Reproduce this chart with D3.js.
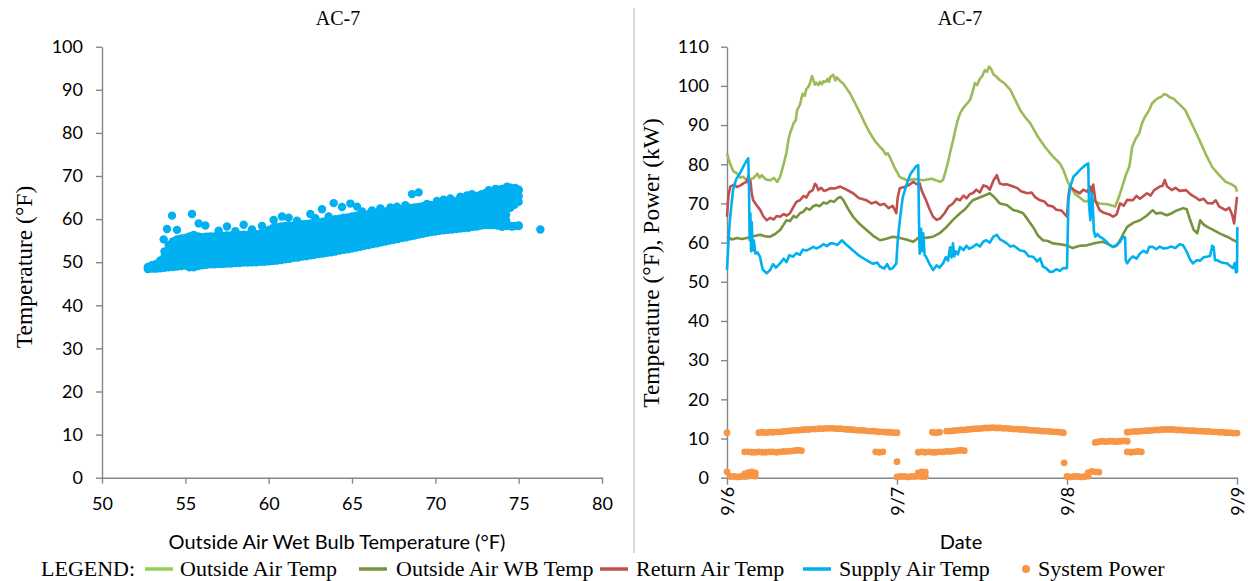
<!DOCTYPE html>
<html>
<head>
<meta charset="utf-8">
<script src="https://cdn.jsdelivr.net/npm/d3@7"></script>
<style>
  body { margin: 0; background: #fff; }
  svg text { fill: #000; }
</style>
</head>
<body>
<div id="chart"></div>
<script>

// ---- data ----

// left: outside air WB (°F) bins, with the supply air temps read in each bin
const wbBins = [52.75, 53, 53.25, 53.5, 53.75, 54, 54.25, 54.5, 54.75, 55, 55.25, 55.5, 55.75,
  56, 56.25, 56.5, 56.75, 57, 57.25, 57.5, 57.75, 58, 58.25, 58.5, 58.75, 59, 59.25, 59.5, 59.75,
  60, 60.25, 60.5, 60.75, 61, 61.25, 61.5, 61.75, 62, 62.25, 62.5, 62.75, 63, 63.25, 63.5, 63.75,
  64, 64.25, 64.5, 64.75, 65, 65.25, 65.5, 65.75, 66, 66.25, 66.5, 66.75, 67, 67.25, 67.5, 67.75,
  68, 68.25, 68.5, 68.75, 69, 69.25, 69.5, 69.75, 70, 70.25, 70.5, 70.75, 71, 71.25, 71.5, 71.75,
  72, 72.25, 72.5, 72.75, 73, 73.25, 73.5, 73.75, 74, 74.25, 74.5, 74.75, 75];
const satByBin = [
  [48.4, 48.9],
  [48.5, 49.3],
  [48.5, 49.6],
  [48.6, 49.9, 50.4],
  [48.7, 50.0, 51.3, 52.5],
  [48.8, 50.1, 51.4, 52.7, 54.0],
  [48.9, 50.2, 51.5, 52.8, 54.1, 54.8],
  [49.0, 50.3, 51.6, 52.9, 54.2, 55.3],
  [49.1, 50.4, 51.7, 53.0, 54.3, 55.5],
  [49.2, 50.5, 51.8, 53.1, 54.4, 55.6],
  [48.8, 50.1, 51.4, 52.7, 54.0, 55.3, 56.0],
  [48.8, 50.1, 51.4, 52.7, 54.0, 55.3, 56.3],
  [49.1, 50.4, 51.7, 53.0, 54.3, 55.6, 56.0],
  [49.3, 50.6, 51.9, 53.2, 54.5, 55.8],
  [49.4, 50.7, 52.0, 53.3, 54.6, 55.9],
  [49.5, 50.8, 52.1, 53.4, 54.7, 56.0],
  [49.5, 50.8, 52.1, 53.4, 54.7, 56.0],
  [49.6, 50.9, 52.2, 53.5, 54.8, 56.1],
  [49.6, 50.9, 52.2, 53.5, 54.8, 56.1],
  [49.7, 51.0, 52.3, 53.6, 54.9, 56.2],
  [49.7, 51.0, 52.3, 53.6, 54.9, 56.2],
  [49.8, 51.1, 52.4, 53.7, 55.0, 56.3],
  [49.8, 51.1, 52.4, 53.7, 55.0, 56.3],
  [49.9, 51.2, 52.5, 53.8, 55.1, 56.4],
  [49.9, 51.2, 52.5, 53.8, 55.1, 56.4],
  [50.0, 51.3, 52.6, 53.9, 55.2, 56.5],
  [50.0, 51.3, 52.6, 53.9, 55.2, 56.5],
  [50.1, 51.4, 52.7, 54.0, 55.3, 56.6],
  [50.1, 51.4, 52.7, 54.0, 55.3, 56.6],
  [50.2, 51.5, 52.8, 54.1, 55.4, 56.7, 57.5],
  [50.3, 51.6, 52.9, 54.2, 55.5, 56.8, 57.9],
  [50.4, 51.7, 53.0, 54.3, 55.6, 56.9, 58.2],
  [50.5, 51.8, 53.1, 54.4, 55.7, 57.0, 58.3],
  [50.7, 52.0, 53.3, 54.6, 55.9, 57.2, 58.4],
  [50.8, 52.1, 53.4, 54.7, 56.0, 57.3, 58.4],
  [51.0, 52.3, 53.6, 54.9, 56.2, 57.5, 58.5],
  [51.1, 52.4, 53.7, 55.0, 56.3, 57.6, 58.6],
  [51.3, 52.6, 53.9, 55.2, 56.5, 57.8, 58.8],
  [51.4, 52.7, 54.0, 55.3, 56.6, 57.9, 58.9],
  [51.6, 52.9, 54.2, 55.5, 56.8, 58.1, 59.0],
  [51.7, 53.0, 54.3, 55.6, 56.9, 58.2, 59.1],
  [51.9, 53.2, 54.5, 55.8, 57.1, 58.4, 59.3],
  [52.0, 53.3, 54.6, 55.9, 57.2, 58.5, 59.4],
  [52.2, 53.5, 54.8, 56.1, 57.4, 58.7, 59.6],
  [52.3, 53.6, 54.9, 56.2, 57.5, 58.8, 59.8],
  [52.5, 53.8, 55.1, 56.4, 57.7, 59.0, 60.0],
  [52.7, 54.0, 55.3, 56.6, 57.9, 59.2, 60.1],
  [52.9, 54.2, 55.5, 56.8, 58.1, 59.4, 60.3],
  [53.0, 54.3, 55.6, 56.9, 58.2, 59.5, 60.4],
  [53.2, 54.5, 55.8, 57.1, 58.4, 59.7, 60.6],
  [53.4, 54.7, 56.0, 57.3, 58.6, 59.9, 60.8],
  [53.6, 54.9, 56.2, 57.5, 58.8, 60.1, 61.0],
  [53.8, 55.1, 56.4, 57.7, 59.0, 60.3, 61.1],
  [54.0, 55.3, 56.6, 57.9, 59.2, 60.5, 61.2],
  [54.2, 55.5, 56.8, 58.1, 59.4, 60.7, 61.4],
  [54.4, 55.7, 57.0, 58.3, 59.6, 60.9, 61.5],
  [54.6, 55.9, 57.2, 58.5, 59.8, 61.1, 61.7],
  [54.8, 56.1, 57.4, 58.7, 60.0, 61.2, 61.8],
  [55.0, 56.3, 57.6, 58.9, 60.2, 61.4, 61.9],
  [55.2, 56.5, 57.8, 59.1, 60.4, 61.6, 62.0],
  [55.4, 56.7, 58.0, 59.3, 60.6, 61.8, 62.2],
  [55.6, 56.9, 58.2, 59.5, 60.8, 61.9, 62.3],
  [55.8, 57.1, 58.4, 59.7, 61.0, 62.1, 62.5],
  [56.0, 57.3, 58.6, 59.9, 61.2, 62.3, 62.6],
  [56.2, 57.5, 58.8, 60.1, 61.4, 62.7],
  [56.4, 57.7, 59.0, 60.3, 61.6, 62.8],
  [56.6, 57.9, 59.2, 60.5, 61.8, 63.0],
  [56.8, 58.1, 59.4, 60.7, 62.0, 63.1],
  [57.0, 58.3, 59.6, 60.9, 62.2, 63.3],
  [57.1, 58.4, 59.7, 61.0, 62.3, 63.4],
  [57.3, 58.6, 59.9, 61.2, 62.5, 63.6],
  [57.4, 58.7, 60.0, 61.3, 62.6, 63.7],
  [57.5, 58.8, 60.1, 61.4, 62.7, 63.9],
  [57.6, 58.9, 60.2, 61.5, 62.8, 64.0],
  [57.7, 59.0, 60.3, 61.6, 62.9, 64.2],
  [57.8, 59.1, 60.4, 61.7, 63.0, 64.3],
  [57.9, 59.2, 60.5, 61.8, 63.1, 64.4],
  [58.0, 59.3, 60.6, 61.9, 63.2, 64.5, 65.0],
  [58.2, 59.5, 60.8, 62.1, 63.4, 64.7, 65.2],
  [58.3, 59.6, 60.9, 62.2, 63.5, 64.8, 65.4],
  [58.5, 59.8, 61.1, 62.4, 63.7, 65.0, 65.7],
  [58.6, 59.9, 61.2, 62.5, 63.8, 65.1, 66.0],
  [58.6, 59.9, 61.2, 62.5, 63.8, 65.1, 66.2],
  [58.6, 59.9, 61.2, 62.5, 63.8, 65.1, 66.3],
  [58.5, 59.8, 61.1, 62.4, 63.7, 65.0, 66.3, 66.8],
  [58.5, 59.8, 61.1, 62.4, 63.7, 65.0, 66.3, 67.0],
  [58.4, 59.7, 61.0, 62.3, 63.6, 64.9, 66.2, 67.2],
  [58.4, 62.6, 63.9, 65.2, 66.5, 67.3],
  [58.4, 63.3, 64.6, 65.9, 67.1],
  [58.5, 64.0, 65.3, 66.6]
];
// stray points above the band
const scatterOutliers = [[53.7, 55.3], [53.9, 57.7], [54.2, 60.8], [54.5, 57.5], [55.4, 61.2],
  [55.8, 59], [56.2, 58.5], [57.0, 57.3], [57.5, 58.3], [58.0, 57.2], [58.5, 58.7], [59.0, 57.6],
  [59.6, 58.4], [60.3, 59.8], [60.8, 60.6], [61.2, 60.3], [61.7, 59.6], [62.5, 61.2], [62.8, 60.2],
  [63.2, 62.3], [63.6, 60.6], [63.9, 63.7], [64.4, 62.8], [64.9, 63.6], [65.3, 62.9], [65.6, 61.8],
  [66.2, 62.0], [66.7, 62.5], [67.3, 62.7], [67.7, 62.9], [68.2, 63.2], [68.6, 65.8], [69.0, 66.2],
  [69.5, 63.5], [70.1, 64.2], [70.5, 64.5], [70.9, 64.8], [71.5, 65.2], [71.9, 65.5], [72.2, 65.8],
  [72.8, 65.7], [73.2, 66.7], [73.6, 67.0], [74.3, 67.5], [74.8, 67.2], [75.0, 66.8],
  [74.0, 58.2], [74.6, 58.3], [75.0, 58.4], [76.3, 57.6]];

// right: hours after 9/6 00:00, value
const dateLabels = ["9/6", "9/7", "9/8", "9/9"];
const dateHours = [0, 24, 48, 72];

const outsideAirTemp = [[0, 82.8], [0.2, 81.5], [0.4, 80.3], [0.9, 78.2], [1.4, 77.7], [1.8, 76.6],
  [2.3, 76.8], [2.8, 75.8], [3.2, 76.2], [3.7, 76.4], [4.3, 77.6], [4.6, 76.5], [4.9, 77.2], [5.5, 76.1],
  [6.1, 75.9], [6.6, 76.5], [7.1, 75.5], [7.5, 76.8], [7.9, 79.4], [8.2, 81.5], [8.4, 83], [8.7, 86.5],
  [8.9, 87.9], [9.2, 89.4], [9.4, 90.5], [9.7, 91.2], [9.9, 93.8], [10.1, 94.5], [10.3, 95.2],
  [10.5, 96.8], [10.7, 98], [11.0, 97.5], [11.2, 99.2], [11.5, 99.8], [11.7, 100.6], [12.0, 102.5],
  [12.2, 101.5], [12.4, 100.3], [12.6, 100.8], [12.9, 100.2], [13.1, 101], [13.4, 100.4], [13.6, 101.2],
  [13.9, 101.0], [14.2, 101.8], [14.4, 101.0], [14.6, 102.3], [15, 102.8], [15.3, 101.4], [15.5, 102.2],
  [16, 101.2], [16.4, 100.6], [16.9, 99.3], [17.4, 98], [18.1, 95.5], [18.8, 93], [19.5, 90.3],
  [20.2, 87.9], [20.9, 85.9], [21.6, 84.4], [22.0, 83.7], [22.4, 82.5], [22.7, 82.8], [23, 81.8],
  [23.7, 79.0], [24.4, 76.7], [25.4, 75.9], [26.5, 76.2], [27.7, 75.9], [28.9, 76.3], [30.1, 75.5],
  [30.5, 76], [30.8, 77.8], [31.2, 80.5], [31.5, 83.0], [31.9, 86], [32.2, 88.5], [32.5, 90.8],
  [32.9, 93], [33.3, 94.2], [33.8, 95.3], [34.3, 96.4], [34.6, 98.0], [35, 100.7], [35.3, 100.2],
  [35.7, 101.8], [36.0, 102.4], [36.4, 104], [36.7, 103.6], [37, 104.9], [37.3, 104.3], [37.6, 103],
  [38.0, 102.4], [38.5, 101.5], [39.2, 100.6], [40, 99], [40.7, 96.4], [41.4, 93.8], [42.1, 92.0],
  [42.8, 90.5], [43.8, 87.3], [44.9, 84.4], [45.9, 82.2], [47, 80.2], [47.5, 78.5], [48.1, 75.5],
  [49.1, 72.5], [50.5, 70.5], [51.5, 70.8], [52.6, 70], [53.7, 69.8], [54.8, 69.2], [55.3, 71.5],
  [55.8, 74.3], [56.3, 77.2], [56.8, 79.4], [57.2, 84.4], [57.7, 86.5], [58.2, 87.9], [58.6, 90.5],
  [59, 92.1], [59.6, 93.8], [60.0, 95.5], [60.5, 96.4], [60.9, 96.9], [61.3, 97.2], [61.7, 97.9],
  [62.1, 97.7], [62.5, 97.1], [63, 96.8], [63.8, 95.4], [64.7, 93.8], [65.7, 90.0], [66.7, 86.2],
  [67.6, 82.5], [68.5, 79.3], [69.4, 77.4], [70.4, 75.5], [71.1, 75.0], [71.8, 74.2], [72, 73]];

const outsideAirWB = [[0, 61.5], [0.7, 60.8], [1.4, 61.2], [2.1, 60.9], [2.8, 61.2], [3.7, 61.6],
  [4.7, 62], [5.4, 61.6], [6.1, 61.5], [6.8, 62.2], [7.5, 63.2], [8.0, 64.6], [8.4, 65.7], [8.9, 65.5],
  [9.4, 66.8], [9.8, 66.4], [10.3, 67.5], [10.8, 67.9], [11.2, 68.8], [11.7, 68.4], [12.1, 69.2],
  [12.6, 69.6], [13.1, 69.3], [13.6, 70.2], [14.1, 70], [14.6, 70.7], [15.1, 70.4], [15.6, 71.3],
  [16, 71.7], [16.4, 70.9], [17.1, 68.6], [17.8, 66.6], [18.7, 64.8], [19.7, 63.2], [20.6, 61.8],
  [21.6, 60.6], [22.5, 61.0], [23.4, 61.5], [24.4, 61.2], [25.3, 60.8], [26.3, 60.2], [26.8, 60.9],
  [27.2, 61.5], [28.1, 61.2], [29.1, 61.5], [30.1, 62.5], [31, 64], [31.9, 65.8], [32.9, 67.5],
  [33.6, 68.5], [34.2, 69.8], [34.7, 70.8], [35.4, 71.3], [36.2, 71.9], [37.1, 72.6], [37.8, 71.5],
  [38.5, 70], [39.5, 69.6], [40.4, 68.3], [41.1, 68.0], [41.8, 67.5], [42.5, 65.8], [43.2, 64],
  [43.9, 61.8], [44.6, 60.6], [45.3, 60.4], [46, 59.8], [47, 59.6], [48, 59.3], [48.8, 58.6],
  [49.8, 59.2], [50.8, 59.3], [52.0, 59.9], [53.1, 60.2], [53.8, 59.6], [54.5, 58.9], [55.0, 59.2],
  [55.5, 60.6], [56.0, 62.4], [56.5, 64], [57.4, 65.1], [58.3, 65.7], [59.2, 66.8], [60.1, 68.3],
  [60.6, 67.4], [61.2, 67.6], [62.1, 67], [62.8, 67.5], [63.5, 68.2], [64.4, 68.8], [64.9, 68.5],
  [65.4, 65.7], [65.9, 63.2], [66.4, 62.4], [66.8, 65.7], [67.3, 64.6], [67.8, 64.0], [68.7, 63.2],
  [69.6, 62.3], [70.6, 61.5], [71.3, 60.8], [72, 60.2]];

const returnAirTemp = [[0, 66.6], [0.2, 72], [0.47, 74.3], [1.0, 74.8], [1.4, 74.2], [1.9, 74.6],
  [2.4, 75.2], [2.8, 75.5], [3.0, 77], [3.15, 74.5], [3.3, 75.8], [3.5, 72.5], [3.7, 70.8], [4.2, 69.5],
  [4.7, 68.3], [5.1, 66.8], [5.6, 65.7], [6.1, 66.3], [6.6, 65.9], [7.0, 66.8], [7.5, 66.6], [8.0, 67.3],
  [8.4, 66.9], [8.9, 67.5], [9.4, 69.2], [9.8, 70.4], [10.3, 70.8], [10.8, 71.9], [11.2, 71.5],
  [11.6, 72.8], [12.1, 73.4], [12.4, 75.0], [12.6, 74.7], [12.9, 73.4], [13.3, 74.0], [13.7, 73.2],
  [14.1, 73.4], [14.6, 73.9], [15.2, 73.8], [16, 74.3], [16.8, 73.6], [17.8, 72.6], [18.6, 71.4],
  [19.7, 70.8], [20.4, 70.0], [21, 70.4], [21.6, 69.6], [22.2, 69.9], [22.8, 68.8], [23.4, 69.4],
  [23.9, 67.5], [24.1, 71.5], [24.4, 73.9], [25.0, 74.2], [25.6, 74.6], [26.3, 75.5], [26.8, 74.9],
  [27.2, 75.1], [27.5, 73.2], [28.1, 70.8], [28.6, 68.5], [29.1, 66.6], [29.6, 65.8], [30.1, 66.2],
  [30.7, 67.5], [31.3, 69.2], [31.9, 70], [32.4, 71.2], [32.9, 70.8], [33.4, 72.0], [33.8, 71.3],
  [34.3, 72.4], [34.7, 72.6], [35.2, 73.5], [35.7, 72.8], [36.2, 74.6], [36.7, 74.3], [37.1, 73.5],
  [37.6, 75.8], [38.1, 77.2], [38.5, 75.1], [39.0, 74.8], [39.5, 74.9], [40.4, 74.3], [41.0, 73.9],
  [41.5, 73.1], [42.4, 72.6], [43.0, 72.8], [43.5, 71.6], [44.2, 70.8], [44.8, 70.5], [45.3, 69.5],
  [46, 69.2], [46.5, 68.4], [47.2, 68.2], [48, 66.6], [48.2, 72], [48.4, 74.3], [49.0, 73.4],
  [49.8, 72.6], [50.3, 73.5], [50.8, 73.0], [51.3, 74.3], [51.5, 72.5], [51.7, 74.8], [52.0, 70.8],
  [52.6, 68.3], [53.2, 67.6], [54.0, 67.2], [54.5, 66.6], [55.0, 67.2], [55.5, 70], [56.0, 69.4],
  [56.5, 70.9], [57.3, 70.8], [57.8, 71.9], [58.3, 71.2], [59.3, 72.6], [59.8, 72.0], [60.3, 73.4],
  [61.1, 74.3], [61.5, 74.5], [61.8, 76], [62.1, 74.4], [62.8, 73.4], [63.3, 74.0], [63.9, 73.2],
  [64.8, 73.4], [65.6, 72.1], [66.2, 71.5], [66.7, 70.8], [67.3, 71.2], [67.8, 70.1], [68.5, 70],
  [69.0, 70.8], [69.5, 69.2], [70.4, 68.3], [70.9, 68.9], [71.3, 67.2], [71.6, 64.9], [72, 71.7]];

const supplyAirTemp = [[0, 53], [0.2, 60], [0.4, 65.7], [0.85, 73.4], [1.3, 76.2], [1.84, 77.7],
  [2.3, 79.4], [2.8, 81], [3.0, 81.5], [3.1, 74.3], [3.2, 60.6], [3.3, 67.5], [3.4, 57.8], [3.5, 65.2],
  [3.6, 58], [3.8, 60.5], [4.0, 57.2], [4.3, 57.5], [4.66, 56.4], [4.9, 54.2], [5.1, 53], [5.6, 52.2],
  [6.1, 53], [6.5, 54.5], [6.9, 53.6], [7.5, 54.7], [8.0, 55.9], [8.4, 55.0], [8.8, 56.8], [9.3, 56.4],
  [9.8, 57.3], [10.3, 56.9], [10.7, 58.2], [11.2, 58], [11.7, 58.4], [12.2, 58.9], [12.6, 58.5],
  [13.1, 58.9], [13.6, 59.6], [14.1, 59.1], [14.6, 59.8], [15, 59.8], [15.6, 59.4], [16.2, 60.6],
  [16.9, 59.4], [17.8, 58], [18.7, 56.6], [19.7, 55.5], [20.6, 54.6], [21.2, 54.9], [21.6, 53.9],
  [22.2, 53.4], [22.6, 54.5], [23, 53.2], [23.4, 53.5], [23.9, 54.7], [24.1, 60.5], [24.4, 65.7],
  [24.8, 71.5], [25.4, 75.1], [25.9, 77.5], [26.3, 78.5], [26.7, 79.5], [27, 79.8], [27.1, 66],
  [27.2, 57.2], [27.4, 63.5], [27.5, 57.8], [27.7, 62.4], [27.9, 56.8], [28.1, 56.4], [28.6, 54.5],
  [29.1, 53], [29.6, 54.2], [30.0, 53.6], [30.5, 54.7], [30.9, 56.3], [31.2, 55.4], [31.5, 58.8],
  [31.7, 56.2], [31.9, 59.8], [32.1, 56.5], [32.3, 57.8], [32.6, 57.0], [32.9, 58.9], [33.4, 58.1],
  [33.8, 59.2], [34.2, 58.4], [34.7, 58.9], [35.2, 59.6], [35.7, 59.0], [36.2, 60.3], [36.6, 60.6],
  [37.1, 60.0], [37.6, 61.5], [38.1, 62], [38.5, 60.9], [39.0, 60.4], [39.5, 59.8], [40.0, 59.0],
  [40.5, 59.2], [41.4, 58], [42.0, 57.8], [42.6, 56.5], [43.2, 56.4], [43.8, 55.2], [44.2, 56.0],
  [44.6, 53.9], [45.1, 53.4], [45.6, 52.5], [46, 52.6], [46.5, 53.2], [47.0, 52.8], [47.5, 53.5],
  [48, 53.5], [48.1, 62], [48.2, 70.8], [48.5, 74.5], [48.9, 76.8], [49.3, 77.5], [49.8, 78.5],
  [50.4, 79.5], [51, 80.2], [51.1, 70], [51.3, 65.7], [51.5, 72.5], [51.6, 70.8], [51.8, 63], [52, 61.5],
  [52.3, 62.2], [52.6, 61.5], [53.1, 61.0], [53.6, 60.2], [54.0, 59.4], [54.5, 58.9], [55.0, 59.4],
  [55.5, 60.2], [55.9, 61.5], [56.2, 61.3], [56.3, 55.5], [56.5, 54.7], [56.9, 55.8], [57.3, 56.5],
  [57.8, 55.9], [58.3, 57.2], [58.8, 57.9], [59.3, 57.4], [59.6, 58.9], [60.1, 58.9], [60.6, 58.3],
  [61.1, 59.0], [61.6, 58.5], [62.1, 58.6], [62.7, 59.0], [63.3, 58.6], [63.9, 59.6], [64.4, 59.3],
  [64.9, 57.7], [65.4, 55.6], [65.8, 54.7], [66.3, 55.5], [66.8, 55.4], [67.3, 56.3], [67.7, 56.4],
  [68.2, 56.6], [68.5, 59.2], [68.7, 58.9], [68.9, 55.5], [69.2, 55.5], [69.7, 55.0], [70.2, 54.8],
  [70.6, 54.7], [71.0, 54.1], [71.4, 53.5], [71.7, 54.8], [71.85, 52.4], [72, 52.6], [72.05, 64]];

// system power (kW): runs sampled every half hour, [start hour, values]
const powerStep = 0.5;
const powerRuns = [
  [0, [11.5]],
  [0, [1.5, 0.3, 0.3, 0.2, 0.3, 0.3, 0.4, 0.5, 0.4]],
  [2.5, [1.0, 1.3, 1.5, 1.2]],
  [2.5, [6.6, 6.6, 6.5, 6.5, 6.6, 6.5, 6.5, 6.6, 6.6, 6.5, 6.6, 6.7, 6.7, 6.8, 6.9, 7.0, 6.9]],
  [4.5, [11.5, 11.6, 11.5, 11.6, 11.6, 11.7, 11.7, 11.8, 11.9, 12.0, 12.1, 12.1, 12.2, 12.3, 12.3,
    12.4, 12.4, 12.5, 12.5, 12.6, 12.6, 12.6, 12.5, 12.5, 12.4, 12.3, 12.3, 12.2, 12.1, 12.1, 12.0,
    11.9, 11.9, 11.8, 11.7, 11.7, 11.6, 11.6, 11.5, 11.5]],
  [21, [6.6, 6.5, 6.6]],
  [24, [4.1]],
  [24, [0.2, 0.3, 0.3, 0.2, 0.3, 0.3, 0.4, 0.3, 0.3]],
  [27, [1.2, 1.5, 1.4]],
  [27, [6.5, 6.6, 6.5, 6.6, 6.5, 6.5, 6.6, 6.6, 6.7, 6.7, 6.8, 6.9, 7.0, 6.9]],
  [29, [11.6, 11.5, 11.6]],
  [31, [11.9, 11.9, 12.0, 12.1, 12.2, 12.2, 12.3, 12.4, 12.5, 12.5, 12.6, 12.7, 12.7, 12.8, 12.7,
    12.7, 12.6, 12.6, 12.5, 12.4, 12.4, 12.3, 12.3, 12.2, 12.1, 12.1, 12.0, 11.9, 11.9, 11.8, 11.7,
    11.7, 11.6, 11.5]],
  [47.6, [3.8]],
  [48, [0.3, 0.2, 0.3, 0.3, 0.2, 0.3, 0.4]],
  [51, [1.3, 1.6, 1.5, 1.4]],
  [52, [9.0, 9.2, 9.3, 9.2, 9.3, 9.3, 9.2, 9.3, 9.4, 9.3]],
  [56.5, [6.6, 6.5, 6.6, 6.7, 6.6]],
  [56.5, [11.6, 11.7, 11.8, 11.8, 11.9, 12.0, 12.0, 12.1, 12.2, 12.2, 12.3, 12.3, 12.3, 12.3, 12.2,
    12.2, 12.1, 12.1, 12.0, 12.0, 11.9, 11.9, 11.8, 11.8, 11.7, 11.7, 11.6, 11.6, 11.5, 11.5, 11.4, 11.4]]
];

const legendLabels = ["Outside Air Temp", "Outside Air WB Temp", "Return Air Temp", "Supply Air Temp", "System Power"];

// ---- layout ----

const dims = { width: 1248, height: 581, plotTop: 46.7, plotBottom: 477.7 };
const leftPlot = { x0: 102, x1: 602 };
const rightPlot = { x0: 727, x1: 1237 };

const colors = {
  oat: "#9BBB59", oatKey: "#92D050", wb: "#77933C", ret: "#C0504D",
  sup: "#00B0F0", pow: "#F79646", axis: "#868686"
};
const sansFont = "Lato, 'Open Sans', sans-serif";
const serifFont = "'Liberation Serif', 'Times New Roman', serif";

const svg = d3.select("#chart")
  .append("svg")
  .attr("width", dims.width)
  .attr("height", dims.height)
  .style("font-family", sansFont);

function styleAxis(g) {
  g.selectAll(".domain").attr("stroke", colors.axis).attr("stroke-width", 1.4);
  g.selectAll(".tick line").attr("stroke", colors.axis).attr("stroke-width", 1.4);
  g.selectAll(".tick text").style("font-family", sansFont).style("font-size", "18px").attr("fill", "#000");
}

// separator between the two charts
svg.append("line")
  .attr("x1", 634).attr("x2", 634)
  .attr("y1", 8).attr("y2", 553)
  .attr("stroke", "#d9d9d9")
  .attr("stroke-width", 2);

// ---- left chart ----

const xL = d3.scaleLinear().domain([50, 80]).range([leftPlot.x0, leftPlot.x1]);
const yL = d3.scaleLinear().domain([0, 100]).range([dims.plotBottom, dims.plotTop]);

const yAxisL = svg.append("g")
  .attr("transform", `translate(${leftPlot.x0},0)`)
  .call(d3.axisLeft(yL).tickValues(d3.range(0, 101, 10)).tickSize(6).tickSizeOuter(0).tickPadding(13));
styleAxis(yAxisL);

const xAxisL = svg.append("g")
  .attr("transform", `translate(0,${dims.plotBottom})`)
  .call(d3.axisBottom(xL).tickValues(d3.range(50, 81, 5)).tickSize(6).tickSizeOuter(0).tickPadding(14));
styleAxis(xAxisL);

const scatterPoints = [];
wbBins.forEach((wb, i) => satByBin[i].forEach(t => scatterPoints.push([wb, t])));
scatterOutliers.forEach(p => scatterPoints.push(p));

svg.append("g")
  .selectAll("circle")
  .data(scatterPoints)
  .join("circle")
  .attr("cx", d => xL(d[0]))
  .attr("cy", d => yL(d[1]))
  .attr("r", 4.2)
  .attr("fill", colors.sup);

svg.append("text")
  .attr("x", 338).attr("y", 25)
  .attr("text-anchor", "middle")
  .style("font-family", serifFont).style("font-size", "20px")
  .text("AC-7");

svg.append("text")
  .attr("transform", "translate(32,267) rotate(-90)")
  .attr("text-anchor", "middle")
  .style("font-family", serifFont).style("font-size", "23.5px")
  .text("Temperature (°F)");

svg.append("text")
  .attr("x", 337).attr("y", 549)
  .attr("text-anchor", "middle")
  .style("font-size", "20px")
  .text("Outside Air Wet Bulb Temperature (°F)");

// ---- right chart ----

const xR = d3.scaleLinear().domain([0, 72]).range([rightPlot.x0, rightPlot.x1]);
const yR = d3.scaleLinear().domain([0, 110]).range([dims.plotBottom, dims.plotTop]);

const yAxisR = svg.append("g")
  .attr("transform", `translate(${rightPlot.x0},0)`)
  .call(d3.axisLeft(yR).tickValues(d3.range(0, 111, 10)).tickSize(6).tickSizeOuter(0).tickPadding(12));
styleAxis(yAxisR);

const xAxisR = svg.append("g")
  .attr("transform", `translate(0,${dims.plotBottom})`)
  .call(d3.axisBottom(xR).tickValues(dateHours).tickSize(7).tickSizeOuter(0)
    .tickFormat((d, i) => dateLabels[i]));
styleAxis(xAxisR);
xAxisR.selectAll(".tick text")
  .attr("transform", "rotate(-90)")
  .attr("x", -9).attr("y", 0).attr("dy", "0.35em")
  .attr("text-anchor", "end");

const line = d3.line().x(d => xR(d[0])).y(d => yR(d[1]));

const seriesList = [
  { data: outsideAirTemp, color: colors.oat },
  { data: outsideAirWB, color: colors.wb },
  { data: returnAirTemp, color: colors.ret },
  { data: supplyAirTemp, color: colors.sup }
];

seriesList.forEach(s => {
  svg.append("path")
    .attr("d", line(s.data))
    .attr("fill", "none")
    .attr("stroke", s.color)
    .attr("stroke-width", 2.6)
    .attr("stroke-linejoin", "round");
});

const powerPoints = [];
powerRuns.forEach(run => run[1].forEach((kw, i) => powerPoints.push([run[0] + i * powerStep, kw])));

svg.append("g")
  .selectAll("circle")
  .data(powerPoints)
  .join("circle")
  .attr("cx", d => xR(d[0]))
  .attr("cy", d => yR(d[1]))
  .attr("r", 3.4)
  .attr("fill", colors.pow);

svg.append("text")
  .attr("x", 960).attr("y", 25)
  .attr("text-anchor", "middle")
  .style("font-family", serifFont).style("font-size", "20px")
  .text("AC-7");

svg.append("text")
  .attr("transform", "translate(659,263) rotate(-90)")
  .attr("text-anchor", "middle")
  .style("font-family", serifFont).style("font-size", "23.5px")
  .text("Temperature (°F), Power (kW)");

svg.append("text")
  .attr("x", 961).attr("y", 549)
  .attr("text-anchor", "middle")
  .style("font-size", "20px")
  .text("Date");

// ---- legend ----

const legendY = 569;
const legendKeyX = [145, 359, 600, 803, 1026];
const legendTextX = [180, 396, 636, 839, 1038];
const legendColors = [colors.oatKey, colors.wb, colors.ret, colors.sup, colors.pow];

const legend = svg.append("g")
  .style("font-family", serifFont)
  .style("font-size", "22px");

legend.append("text")
  .attr("x", 41).attr("y", legendY + 7)
  .text("LEGEND:");

legendLabels.forEach((label, i) => {
  if (i < 4) {
    legend.append("line")
      .attr("x1", legendKeyX[i]).attr("x2", legendKeyX[i] + 28)
      .attr("y1", legendY).attr("y2", legendY)
      .attr("stroke", legendColors[i])
      .attr("stroke-width", 3.5);
  } else {
    legend.append("circle")
      .attr("cx", legendKeyX[i]).attr("cy", legendY)
      .attr("r", 4)
      .attr("fill", legendColors[i]);
  }
  legend.append("text")
    .attr("x", legendTextX[i]).attr("y", legendY + 7)
    .text(label);
});

</script>
</body>
</html>
